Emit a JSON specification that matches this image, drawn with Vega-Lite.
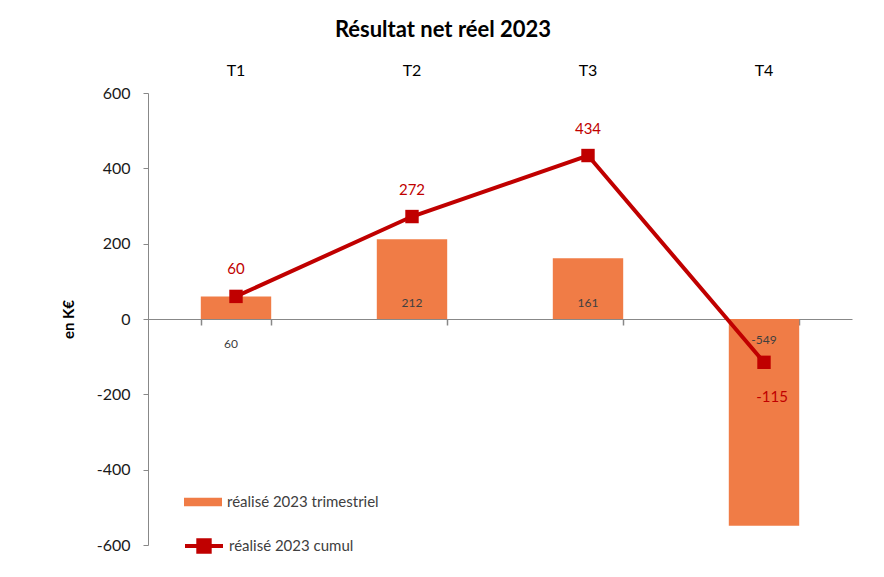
{
  "$schema": "https://vega.github.io/schema/vega-lite/v6.json",
  "width": 704,
  "height": 452,
  "autosize": {"type": "none"},
  "padding": {"left": 148, "top": 93, "right": 32, "bottom": 32},
  "background": "white",
  "config": {"view": {"stroke": null}, "font": "Lato"},
  "title": {"text": "Résultat net réel 2023", "fontSize": 22, "fontWeight": "bold", "font": "Lato", "color": "#000000", "anchor": "middle", "dx": -57, "offset": 20},
  "data": {"values": [
    {"t": "T1", "trim": 60, "cumul": 60},
    {"t": "T2", "trim": 212, "cumul": 272},
    {"t": "T3", "trim": 161, "cumul": 434},
    {"t": "T4", "trim": -549, "cumul": -115}
  ]},
  "resolve": {"axis": {"x": "independent"}, "scale": {"x": "shared"}},
  "layer": [
    {
      "mark": {"type": "bar"},
      "encoding": {
        "x": {"field": "t", "type": "nominal", "scale": {"paddingInner": 0.6, "paddingOuter": 0.3},
              "axis": {"orient": "bottom", "offset": -226, "labels": false, "title": null, "tickBand": "extent", "domainColor": "#888888", "tickColor": "#888888", "tickSize": 6, "tickWidth": 1.5}},
        "y": {"field": "trim", "type": "quantitative", "scale": {"domain": [-600, 600], "nice": false},
              "axis": {"values": [-600, -400, -200, 0, 200, 400, 600], "labelExpr": "replace(datum.label, '−', '-')", "grid": false, "domainColor": "#888888", "tickColor": "#888888", "tickSize": 5, "labelFontSize": 16, "labelColor": "#1a1a1a", "labelPadding": 13, "title": "en K€", "titleFontSize": 15, "titleFontWeight": "bold", "titleColor": "#000000", "titlePadding": 20}},
        "fill": {"datum": "réalisé 2023 trimestriel", "type": "nominal", "scale": {"range": ["#F07C46"]},
                 "legend": {"orient": "none", "legendX": 35, "legendY": 389, "title": null, "symbolType": "M-1,-0.22H1V0.22H-1Z", "symbolSize": 1444, "labelFontSize": 15, "labelColor": "#404040", "labelOffset": 4}}
      }
    },
    {
      "mark": {"type": "line", "strokeWidth": 4},
      "encoding": {
        "x": {"field": "t", "type": "nominal", "scale": {"paddingInner": 0.6, "paddingOuter": 0.3},
              "axis": {"orient": "top", "domain": false, "ticks": false, "title": null, "labelAngle": 0, "labelFontSize": 16, "labelColor": "#000000", "labelPadding": 15}},
        "y": {"field": "cumul", "type": "quantitative"},
        "stroke": {"datum": "réalisé 2023 cumul", "type": "nominal", "scale": {"range": ["#C00000"]},
                   "legend": {"orient": "none", "legendX": 35, "legendY": 432, "title": null, "symbolType": "M-1,0H1M-0.3,-0.3H0.3V0.3H-0.3Z", "symbolSize": 1444, "symbolStrokeWidth": 4, "symbolFillColor": "#C00000", "labelFontSize": 15, "labelColor": "#404040", "labelOffset": 4}}
      }
    },
    {
      "mark": {"type": "point", "shape": "square", "filled": true, "size": 180, "color": "#C00000", "opacity": 1},
      "encoding": {
        "x": {"field": "t", "type": "nominal", "axis": null},
        "y": {"field": "cumul", "type": "quantitative"}
      }
    },
    {
      "transform": [{"filter": "datum.t === 'T1'"}],
      "mark": {"type": "text", "fontSize": 12, "color": "#404040", "dx": -5, "dy": 25},
      "encoding": {"x": {"field": "t", "type": "nominal", "axis": null}, "y": {"datum": 0, "type": "quantitative"}, "text": {"field": "trim"}}
    },
    {
      "transform": [{"filter": "datum.t === 'T2' || datum.t === 'T3'"}],
      "mark": {"type": "text", "fontSize": 12, "color": "#404040", "dy": -16},
      "encoding": {"x": {"field": "t", "type": "nominal", "axis": null}, "y": {"datum": 0, "type": "quantitative"}, "text": {"field": "trim"}}
    },
    {
      "transform": [{"filter": "datum.t === 'T4'"}],
      "mark": {"type": "text", "fontSize": 12, "color": "#404040", "dy": 21},
      "encoding": {"x": {"field": "t", "type": "nominal", "axis": null}, "y": {"datum": 0, "type": "quantitative"}, "text": {"field": "trim"}}
    },
    {
      "transform": [{"filter": "datum.t !== 'T4'"}],
      "mark": {"type": "text", "fontSize": 15, "color": "#C00000", "dy": -27},
      "encoding": {"x": {"field": "t", "type": "nominal", "axis": null}, "y": {"field": "cumul", "type": "quantitative"}, "text": {"field": "cumul"}}
    },
    {
      "transform": [{"filter": "datum.t === 'T4'"}],
      "mark": {"type": "text", "fontSize": 15, "color": "#C00000", "dy": 35, "dx": 8},
      "encoding": {"x": {"field": "t", "type": "nominal", "axis": null}, "y": {"field": "cumul", "type": "quantitative"}, "text": {"field": "cumul"}}
    }
  ]
}
